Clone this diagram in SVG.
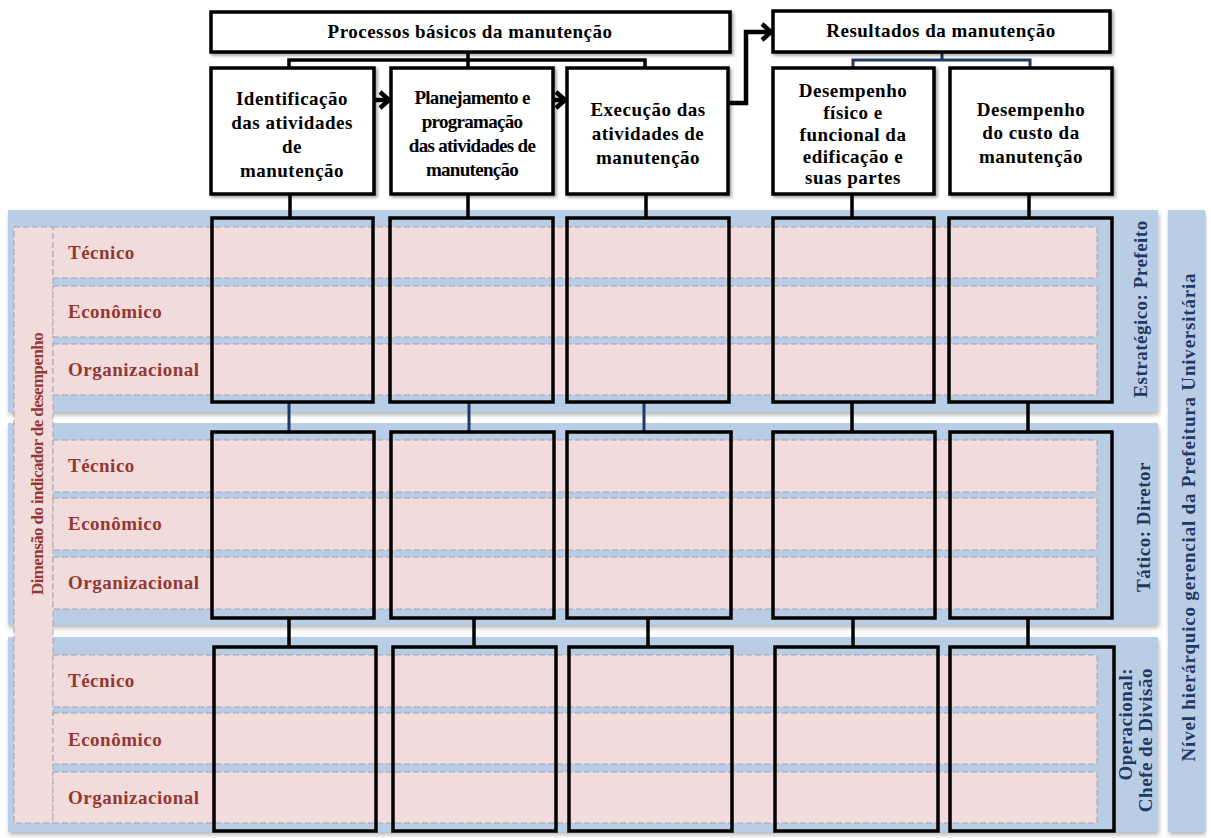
<svg xmlns="http://www.w3.org/2000/svg" width="1211" height="838" viewBox="0 0 1211 838">
  <defs>
    <style>
      .band { fill: #b9cde4; filter: url(#bandShadow); }
      .strip { fill: #f2dcdb; stroke: #9aa6b8; stroke-width: 1; stroke-dasharray: 6 3; }
      .row { fill: #f2dcdb; stroke: #9aa6b8; stroke-width: 1; stroke-dasharray: 6 3; }
      .box { fill: #ffffff; stroke: #000000; stroke-width: 3.5; filter: url(#boxShadow); }
      .col { fill: none; stroke: #000000; stroke-width: 3.5; }
      text { font-family: "Liberation Serif", "Times New Roman", Tinos, "DejaVu Serif", serif; font-weight: 700; font-size: 19px; letter-spacing: 0.5px; }
      .t { fill: #000000; text-anchor: middle; }
      .tc { letter-spacing: -0.7px; }
      .dim { fill: #953735; }
      .dimv { fill: #953735; font-size: 17px; letter-spacing: -0.6px; }
      .lvl { fill: #1f3864; }
      .ln { fill: none; stroke: #000000; stroke-width: 3.5; }
      .lnb { fill: none; stroke: #1f3864; stroke-width: 3; }
      .arr { fill: none; stroke: #000000; stroke-width: 4.5; stroke-linejoin: miter; }
    </style>
    <filter id="bandShadow" x="-5%" y="-5%" width="110%" height="115%">
      <feDropShadow dx="1" dy="3" stdDeviation="2" flood-color="#7f7f7f" flood-opacity="0.55"/>
    </filter>
    <filter id="boxShadow" x="-10%" y="-10%" width="125%" height="130%">
      <feDropShadow dx="2" dy="2" stdDeviation="1.5" flood-color="#000000" flood-opacity="0.35"/>
    </filter>
  </defs>

  <rect width="1211" height="838" fill="#ffffff"/>

  <!-- hierarchical level bands -->
  <g id="bands">
    <rect class="band" x="8" y="210" width="1150" height="202"/>
    <rect class="band" x="8" y="423" width="1150" height="202"/>
    <rect class="band" x="8" y="637" width="1150" height="195"/>
    <rect class="band" x="1168" y="210" width="37" height="622"/>
  </g>

  <!-- performance indicator dimension strip -->
  <g id="dimension-strip">
    <rect class="strip" x="14" y="227" width="39" height="596"/>
    <text class="dimv" transform="translate(43,464) rotate(-90)" text-anchor="middle">Dimensão do indicador de desempenho</text>
  </g>

  <!-- indicator rows per level -->
  <g id="rows-estrategico">
    <rect class="row" x="53" y="227" width="1044" height="51"/>
    <rect class="row" x="53" y="286" width="1044" height="51"/>
    <rect class="row" x="53" y="344" width="1044" height="51"/>
    <text class="dim" x="68" y="259">Técnico</text>
    <text class="dim" x="68" y="318">Econômico</text>
    <text class="dim" x="68" y="376">Organizacional</text>
  </g>
  <g id="rows-tatico">
    <rect class="row" x="53" y="440" width="1044" height="52"/>
    <rect class="row" x="53" y="498" width="1044" height="52"/>
    <rect class="row" x="53" y="557" width="1044" height="52"/>
    <text class="dim" x="68" y="472">Técnico</text>
    <text class="dim" x="68" y="530">Econômico</text>
    <text class="dim" x="68" y="589">Organizacional</text>
  </g>
  <g id="rows-operacional">
    <rect class="row" x="53" y="655" width="1044" height="52"/>
    <rect class="row" x="53" y="713" width="1044" height="51"/>
    <rect class="row" x="53" y="772" width="1044" height="51"/>
    <text class="dim" x="68" y="687">Técnico</text>
    <text class="dim" x="68" y="746">Econômico</text>
    <text class="dim" x="68" y="804">Organizacional</text>
  </g>

  <!-- level labels -->
  <g id="level-labels">
    <text class="lvl" transform="translate(1147,309) rotate(-90)" text-anchor="middle">Estratégico: Prefeito</text>
    <text class="lvl" transform="translate(1150,527) rotate(-90)" text-anchor="middle">Tático: Diretor</text>
    <text class="lvl" transform="translate(1132,668) rotate(-90)" text-anchor="end">Operacional:</text>
    <text class="lvl" transform="translate(1152,668) rotate(-90)" text-anchor="end">Chefe de Divisão</text>
    <text class="lvl" transform="translate(1195,517) rotate(-90)" text-anchor="middle" style="letter-spacing:0.8px">Nível hierárquico gerencial da Prefeitura Universitária</text>
  </g>

  <!-- connectors -->
  <g id="connectors">
    <!-- Processos básicos to its three processes -->
    <path class="ln" d="M468,52 V68"/>
    <path class="ln" d="M289,68 V60 H645 V68"/>
    <!-- Resultados to its two results -->
    <path class="lnb" d="M942,52 V60"/>
    <path class="lnb" d="M853,68 V60 H1030 V68"/>
    <!-- processes down to the strategic level -->
    <path class="ln" d="M290,194 V218"/>
    <path class="ln" d="M468,194 V218"/>
    <path class="ln" d="M646,194 V218"/>
    <path class="ln" d="M852,194 V218"/>
    <path class="ln" d="M1029,194 V218"/>
    <!-- strategic to tactical -->
    <path class="lnb" d="M289,402 V432"/>
    <path class="lnb" d="M469,402 V432"/>
    <path class="lnb" d="M644,402 V432"/>
    <path class="ln" d="M852,402 V432"/>
    <path class="ln" d="M1028,402 V432"/>
    <!-- tactical to operational -->
    <path class="ln" d="M289,618 V647"/>
    <path class="ln" d="M474,618 V647"/>
    <path class="ln" d="M648,618 V647"/>
    <path class="ln" d="M853,618 V647"/>
    <path class="ln" d="M1028,618 V647"/>
    <!-- process flow arrows -->
    <path class="arr" d="M374,100 H388"/>
    <path class="arr" d="M380,92 L389,100 L380,108"/>
    <path class="arr" d="M553,100 H564"/>
    <path class="arr" d="M556,92 L565,100 L556,108"/>
    <path class="arr" d="M728,103 H746 V32 H770"/>
    <path class="arr" d="M762,24 L771,32 L762,40"/>
  </g>

  <!-- header boxes -->
  <g id="processos-basicos">
    <rect class="box" x="211" y="12" width="519" height="40"/>
    <text class="t" x="470" y="38">Processos básicos da manutenção</text>
  </g>
  <g id="resultados">
    <rect class="box" x="773" y="11" width="337" height="41"/>
    <text class="t" x="941" y="37">Resultados da manutenção</text>
  </g>

  <!-- process and result boxes -->
  <g id="identificacao">
    <rect class="box" x="211" y="68" width="163" height="126"/>
    <text class="t" x="292" y="105">Identificação</text>
    <text class="t" x="292" y="129">das atividades</text>
    <text class="t" x="292" y="153">de</text>
    <text class="t" x="292" y="177">manutenção</text>
  </g>
  <g id="planejamento">
    <rect class="box" x="391" y="68" width="162" height="126"/>
    <text class="t tc" x="472" y="104">Planejamento e</text>
    <text class="t tc" x="472" y="128">programação</text>
    <text class="t tc" x="472" y="152">das atividades de</text>
    <text class="t tc" x="472" y="176">manutenção</text>
  </g>
  <g id="execucao">
    <rect class="box" x="567" y="68" width="161" height="126"/>
    <text class="t" x="648" y="116">Execução das</text>
    <text class="t" x="648" y="140">atividades de</text>
    <text class="t" x="648" y="164">manutenção</text>
  </g>
  <g id="desempenho-fisico">
    <rect class="box" x="773" y="68" width="161" height="126"/>
    <text class="t" x="853" y="97">Desempenho</text>
    <text class="t" x="853" y="119">físico e</text>
    <text class="t" x="853" y="141">funcional da</text>
    <text class="t" x="853" y="163">edificação e</text>
    <text class="t" x="853" y="184">suas partes</text>
  </g>
  <g id="desempenho-custo">
    <rect class="box" x="950" y="68" width="162" height="126"/>
    <text class="t" x="1031" y="116">Desempenho</text>
    <text class="t" x="1031" y="139">do custo da</text>
    <text class="t" x="1031" y="163">manutenção</text>
  </g>

  <!-- indicator columns per level -->
  <g id="colunas-estrategico">
    <rect class="col" x="212" y="218" width="161" height="184"/>
    <rect class="col" x="390" y="218" width="163" height="184"/>
    <rect class="col" x="567" y="218" width="162" height="184"/>
    <rect class="col" x="773" y="218" width="161" height="184"/>
    <rect class="col" x="949" y="218" width="163" height="184"/>
  </g>
  <g id="colunas-tatico">
    <rect class="col" x="212" y="432" width="162" height="186"/>
    <rect class="col" x="391" y="432" width="163" height="186"/>
    <rect class="col" x="567" y="432" width="164" height="186"/>
    <rect class="col" x="773" y="432" width="162" height="186"/>
    <rect class="col" x="950" y="432" width="162" height="186"/>
  </g>
  <g id="colunas-operacional">
    <rect class="col" x="214" y="647" width="162" height="184"/>
    <rect class="col" x="393" y="647" width="163" height="184"/>
    <rect class="col" x="569" y="647" width="163" height="184"/>
    <rect class="col" x="775" y="647" width="163" height="184"/>
    <rect class="col" x="950" y="647" width="164" height="184"/>
  </g>
</svg>
